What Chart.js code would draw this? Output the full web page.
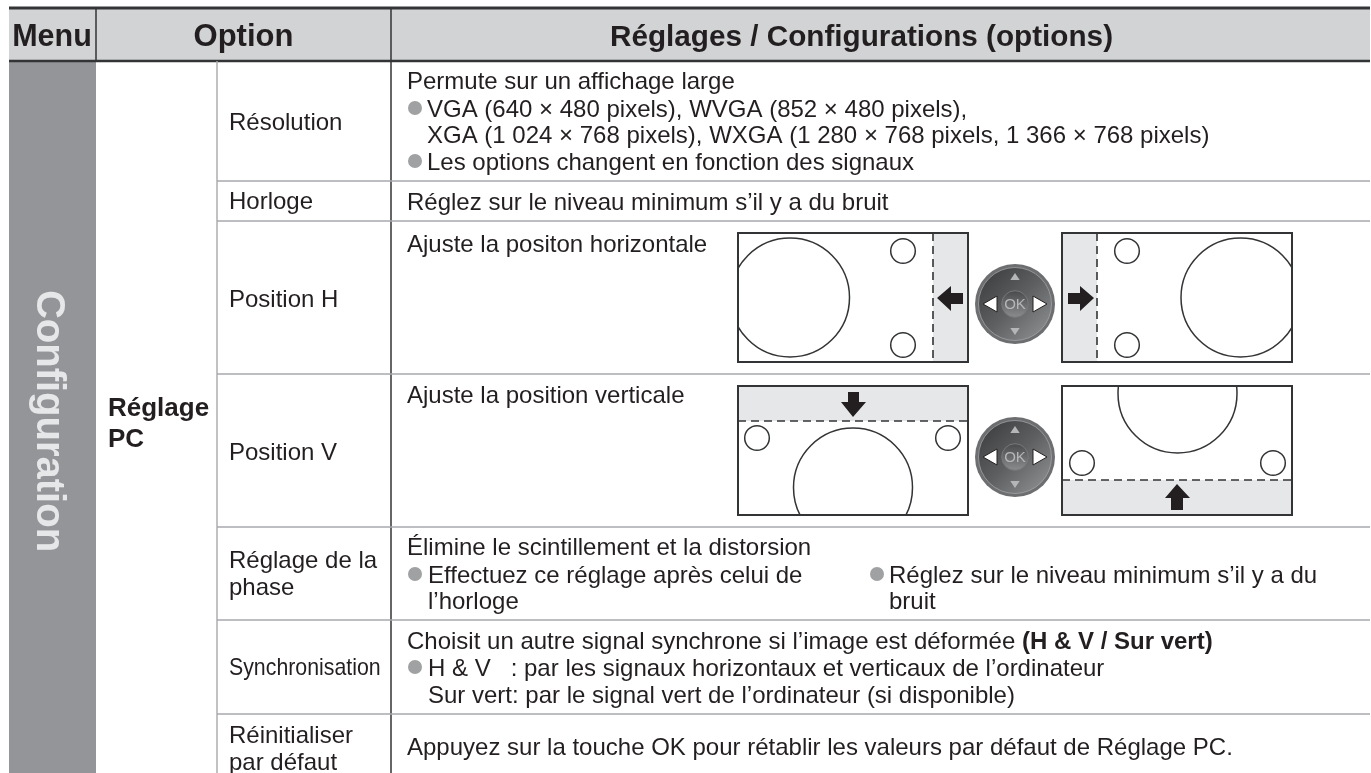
<!DOCTYPE html>
<html lang="fr"><head><meta charset="utf-8"><title>Réglage PC</title>
<script src="https://cdn.jsdelivr.net/npm/chart.js@4/dist/chart.umd.min.js"></script>
<style>html,body{margin:0;padding:0;background:#fff;overflow:hidden}canvas{display:block}</style>
</head><body><canvas id="c" width="1371" height="773"></canvas>
<script>
// table structure (values on the chart's page-unit scales)
const tableLeft = 9, tableRight = 1370, tableTop = 8, tableBottom = 773;
const headerBottom = 61;
const columnEdges = [96, 217, 391];
const rowEdges = [181, 221, 374, 527, 620, 714];
const headers = ['Menu', 'Option', 'Réglages / Configurations (options)'];
const menuLabel = 'Configuration';
const optionLabel = ['Réglage', 'PC'];
const rowLabels = [
  ['Résolution', 229, 130], ['Horloge', 229, 209], ['Position H', 229, 307], ['Position V', 229, 460],
  ['Réglage de la', 229, 568], ['phase', 229, 595], ['Réinitialiser', 229, 743], ['par défaut', 229, 770]
];
const bodyLines = [
  ['Permute sur un affichage large', 407, 89],
  ['VGA (640 × 480 pixels), WVGA (852 × 480 pixels),', 427, 117],
  ['XGA (1 024 × 768 pixels), WXGA (1 280 × 768 pixels, 1 366 × 768 pixels)', 427, 143],
  ['Les options changent en fonction des signaux', 427, 170],
  ['Réglez sur le niveau minimum s’il y a du bruit', 407, 210],
  ['Ajuste la positon horizontale', 407, 252],
  ['Ajuste la position verticale', 407, 403],
  ['Élimine le scintillement et la distorsion', 407, 555],
  ['Effectuez ce réglage après celui de', 428, 583],
  ['l’horloge', 428, 609],
  ['Réglez sur le niveau minimum s’il y a du', 889, 583],
  ['bruit', 889, 609],
  ['H & V   : par les signaux horizontaux et verticaux de l’ordinateur', 428, 676],
  ['Sur vert: par le signal vert de l’ordinateur (si disponible)', 428, 703],
  ['Appuyez sur la touche OK pour rétablir les valeurs par défaut de Réglage PC.', 407, 755]
];
const bulletPoints = [[415,108],[415,161],[415,574],[877,574],[415,667]];
// illustrations
const panels = [[738,233,968,362],[1062,233,1292,362],[738,386,968,515],[1062,386,1292,515]];
const shadedAreas = [[933,233,968,362],[1062,233,1097,362],[738,386,968,421],[1062,480,1292,515]];
const dashedRules = [[933,233,933,362],[1097,233,1097,362],[738,421,968,421],[1062,480,1292,480]];
const bigCircles = [[790,297.5],[1240.5,297.5],[853,487.5],[1177.5,393.5]];
const smallCircleXY = [[903,251],[903,345],[1127,251],[1127,345],[757,438],[948,438],[1082,463],[1273,463]];
const arrowLeft  = [[937,298],[951,286],[951,293],[963,293],[963,304],[951,304],[951,311]];
const arrowRight = [[1094,298],[1080,286],[1080,293],[1068,293],[1068,304],[1080,304],[1080,311]];
const arrowDown  = [[853,417],[841,402],[848,402],[848,392],[859,392],[859,402],[866,402]];
const arrowUp    = [[1177,484],[1165,498],[1171,498],[1171,510],[1183,510],[1183,498],[1190,498]];
const wheels = [[1015,304],[1015,457]];

const DARK = '#333436', GRID = '#a7a9ac';
const rule = (x0,y0,x1,y1,color,w) => ({type:'scatter',showLine:true,pointRadius:0,borderColor:color,borderWidth:w,
  data:[{x:x0,y:y0},{x:x1,y:y1}],clip:false,order:2});
const datasets = [];
rowEdges.forEach(y => datasets.push(rule(columnEdges[1],y,tableRight,y,GRID,1.4)));
datasets.push(rule(columnEdges[1],headerBottom,columnEdges[1],tableBottom,GRID,1.4));
datasets.push(rule(columnEdges[2],headerBottom,columnEdges[2],tableBottom,DARK,1.5));
datasets.push(rule(tableLeft,tableTop,tableRight,tableTop,DARK,3));
datasets.push(rule(tableLeft,headerBottom,tableRight,headerBottom,DARK,2.4));
datasets.push(rule(columnEdges[0],tableTop,columnEdges[0],headerBottom,DARK,1.5));
datasets.push(rule(columnEdges[2],tableTop,columnEdges[2],headerBottom,DARK,1.5));

const tablePlugin = {
  id:'table',
  beforeDatasetsDraw(chart){
    const {ctx,scales:{x,y}} = chart;
    const rect=(a,b,c,d,col)=>{ctx.fillStyle=col;ctx.fillRect(x.getPixelForValue(a),y.getPixelForValue(b),x.getPixelForValue(c)-x.getPixelForValue(a),y.getPixelForValue(d)-y.getPixelForValue(b));};
    rect(tableLeft,tableTop,tableRight,headerBottom,'#d1d3d4');
    rect(tableLeft,headerBottom,columnEdges[0],tableBottom,'#939598');
  },
  afterDatasetsDraw(chart){
    const {ctx,scales:{x,y}} = chart;
    const X=v=>x.getPixelForValue(v), Y=v=>y.getPixelForValue(v);
    const FONT='"Liberation Sans", Arial, sans-serif';
    const BODY=24;
    const text=(s,a,b,size,opt={})=>{
      ctx.save();ctx.fillStyle=opt.color||'#231f20';ctx.font=(opt.bold?'bold ':'')+size+'px '+FONT;
      ctx.textAlign=opt.align||'left';ctx.textBaseline='alphabetic';
      ctx.translate(X(a),Y(b));if(opt.sx)ctx.scale(opt.sx,1);ctx.fillText(s,0,0);ctx.restore();};
    // headers
    text(headers[0],52,46,30.5,{bold:true,align:'center'});
    text(headers[1],243.5,46,31,{bold:true,align:'center'});
    text(headers[2],861.5,46,29.7,{bold:true,align:'center'});
    // menu
    ctx.save();ctx.translate(X(37),Y(421));ctx.rotate(Math.PI/2);ctx.fillStyle='#e6e7e8';
    ctx.font='bold 40px '+FONT;ctx.textAlign='center';ctx.textBaseline='alphabetic';
    ctx.fillText(menuLabel,0,0);ctx.restore();
    // option
    text(optionLabel[0],108,416,26,{bold:true});
    text(optionLabel[1],108,447,26,{bold:true});
    rowLabels.forEach(r=>text(r[0],r[1],r[2],BODY));
    text('Synchronisation',229,675,BODY,{sx:0.888});
    bodyLines.forEach(r=>text(r[0],r[1],r[2],BODY));
    // mixed line
    const plain='Choisit un autre signal synchrone si l’image est déformée ';
    text(plain,407,649,BODY);
    ctx.font=BODY+'px '+FONT;const w=ctx.measureText(plain).width;
    text('(H & V / Sur vert)',407+w,649,BODY,{bold:true});
    // bullets
    ctx.fillStyle='#a0a1a3';
    bulletPoints.forEach(p=>{ctx.beginPath();ctx.arc(X(p[0]),Y(p[1]),7,0,7);ctx.fill();});
    // illustrations
    shadedAreas.forEach(r=>{ctx.fillStyle='#e6e7e8';ctx.fillRect(X(r[0]),Y(r[1]),X(r[2])-X(r[0]),Y(r[3])-Y(r[1]));});
    ctx.strokeStyle=DARK;
    panels.forEach((r,i)=>{
      ctx.save();ctx.beginPath();ctx.rect(X(r[0]),Y(r[1]),X(r[2])-X(r[0]),Y(r[3])-Y(r[1]));ctx.clip();
      ctx.lineWidth=1.5;ctx.beginPath();ctx.arc(X(bigCircles[i][0]),Y(bigCircles[i][1]),59.5,0,7);ctx.stroke();ctx.restore();
    });
    ctx.lineWidth=1.5;
    smallCircleXY.forEach(p=>{ctx.beginPath();ctx.arc(X(p[0]),Y(p[1]),12.3,0,7);ctx.stroke();});
    ctx.lineWidth=1.6;ctx.setLineDash([8,5]);
    dashedRules.forEach(r=>{ctx.beginPath();ctx.moveTo(X(r[0]),Y(r[1]));ctx.lineTo(X(r[2]),Y(r[3]));ctx.stroke();});
    ctx.setLineDash([]);ctx.lineWidth=2;
    panels.forEach(r=>ctx.strokeRect(X(r[0]),Y(r[1]),X(r[2])-X(r[0]),Y(r[3])-Y(r[1])));
    const poly=(pts,fill)=>{ctx.beginPath();pts.forEach((p,i)=>i?ctx.lineTo(X(p[0]),Y(p[1])):ctx.moveTo(X(p[0]),Y(p[1])));ctx.closePath();
      ctx.fillStyle=fill;ctx.fill();};
    [arrowLeft,arrowRight,arrowDown,arrowUp].forEach(a=>poly(a,'#231f20'));
    // wheels
    wheels.forEach(p=>{
      const cx=X(p[0]),cy=Y(p[1]);
      let g=ctx.createLinearGradient(cx-30,cy-30,cx+30,cy+30);g.addColorStop(0,'#3f4042');g.addColorStop(0.5,'#5e5f61');g.addColorStop(1,'#8b8c8e');
      ctx.beginPath();ctx.arc(cx,cy,40,0,7);ctx.fillStyle='#6d6e70';ctx.fill();
      ctx.beginPath();ctx.arc(cx,cy,36.5,0,7);ctx.fillStyle=g;ctx.fill();ctx.strokeStyle='#a7a9ac';ctx.lineWidth=0.7;ctx.stroke();
      g=ctx.createLinearGradient(cx,cy-13,cx,cy+13);g.addColorStop(0,'#4a4b4d');g.addColorStop(1,'#8a8b8d');
      ctx.beginPath();ctx.arc(cx,cy,13.3,0,7);ctx.fillStyle=g;ctx.fill();ctx.strokeStyle='#77787a';ctx.lineWidth=1;ctx.stroke();
      ctx.fillStyle='#b5b6b8';ctx.font='15px '+FONT;ctx.textAlign='center';ctx.textBaseline='middle';ctx.fillText('OK',cx,cy+1);
      const tri=(a,b,c,f,s)=>{ctx.beginPath();ctx.moveTo(cx+a[0],cy+a[1]);ctx.lineTo(cx+b[0],cy+b[1]);ctx.lineTo(cx+c[0],cy+c[1]);ctx.closePath();ctx.fillStyle=f;ctx.fill();if(s){ctx.strokeStyle=s;ctx.lineWidth=1;ctx.stroke();}};
      tri([-32,0],[-18,-8],[-18,8],'#fff','#231f20');
      tri([32,0],[18,-8],[18,8],'#fff','#231f20');
      tri([0,-31],[-4.7,-24],[4.7,-24],'#b5b6b8');
      tri([0,31],[-4.7,24],[4.7,24],'#b5b6b8');
    });
  }
};

new Chart(document.getElementById('c'),{
  type:'scatter',
  data:{datasets},
  options:{
    responsive:false,animation:false,layout:{padding:0},events:[],
    plugins:{legend:{display:false},tooltip:{enabled:false},title:{display:false}},
    scales:{
      x:{type:'linear',min:0,max:1371,display:false},
      y:{type:'linear',min:0,max:773,reverse:true,display:false}
    }
  },
  plugins:[tablePlugin]
});
</script></body></html>
